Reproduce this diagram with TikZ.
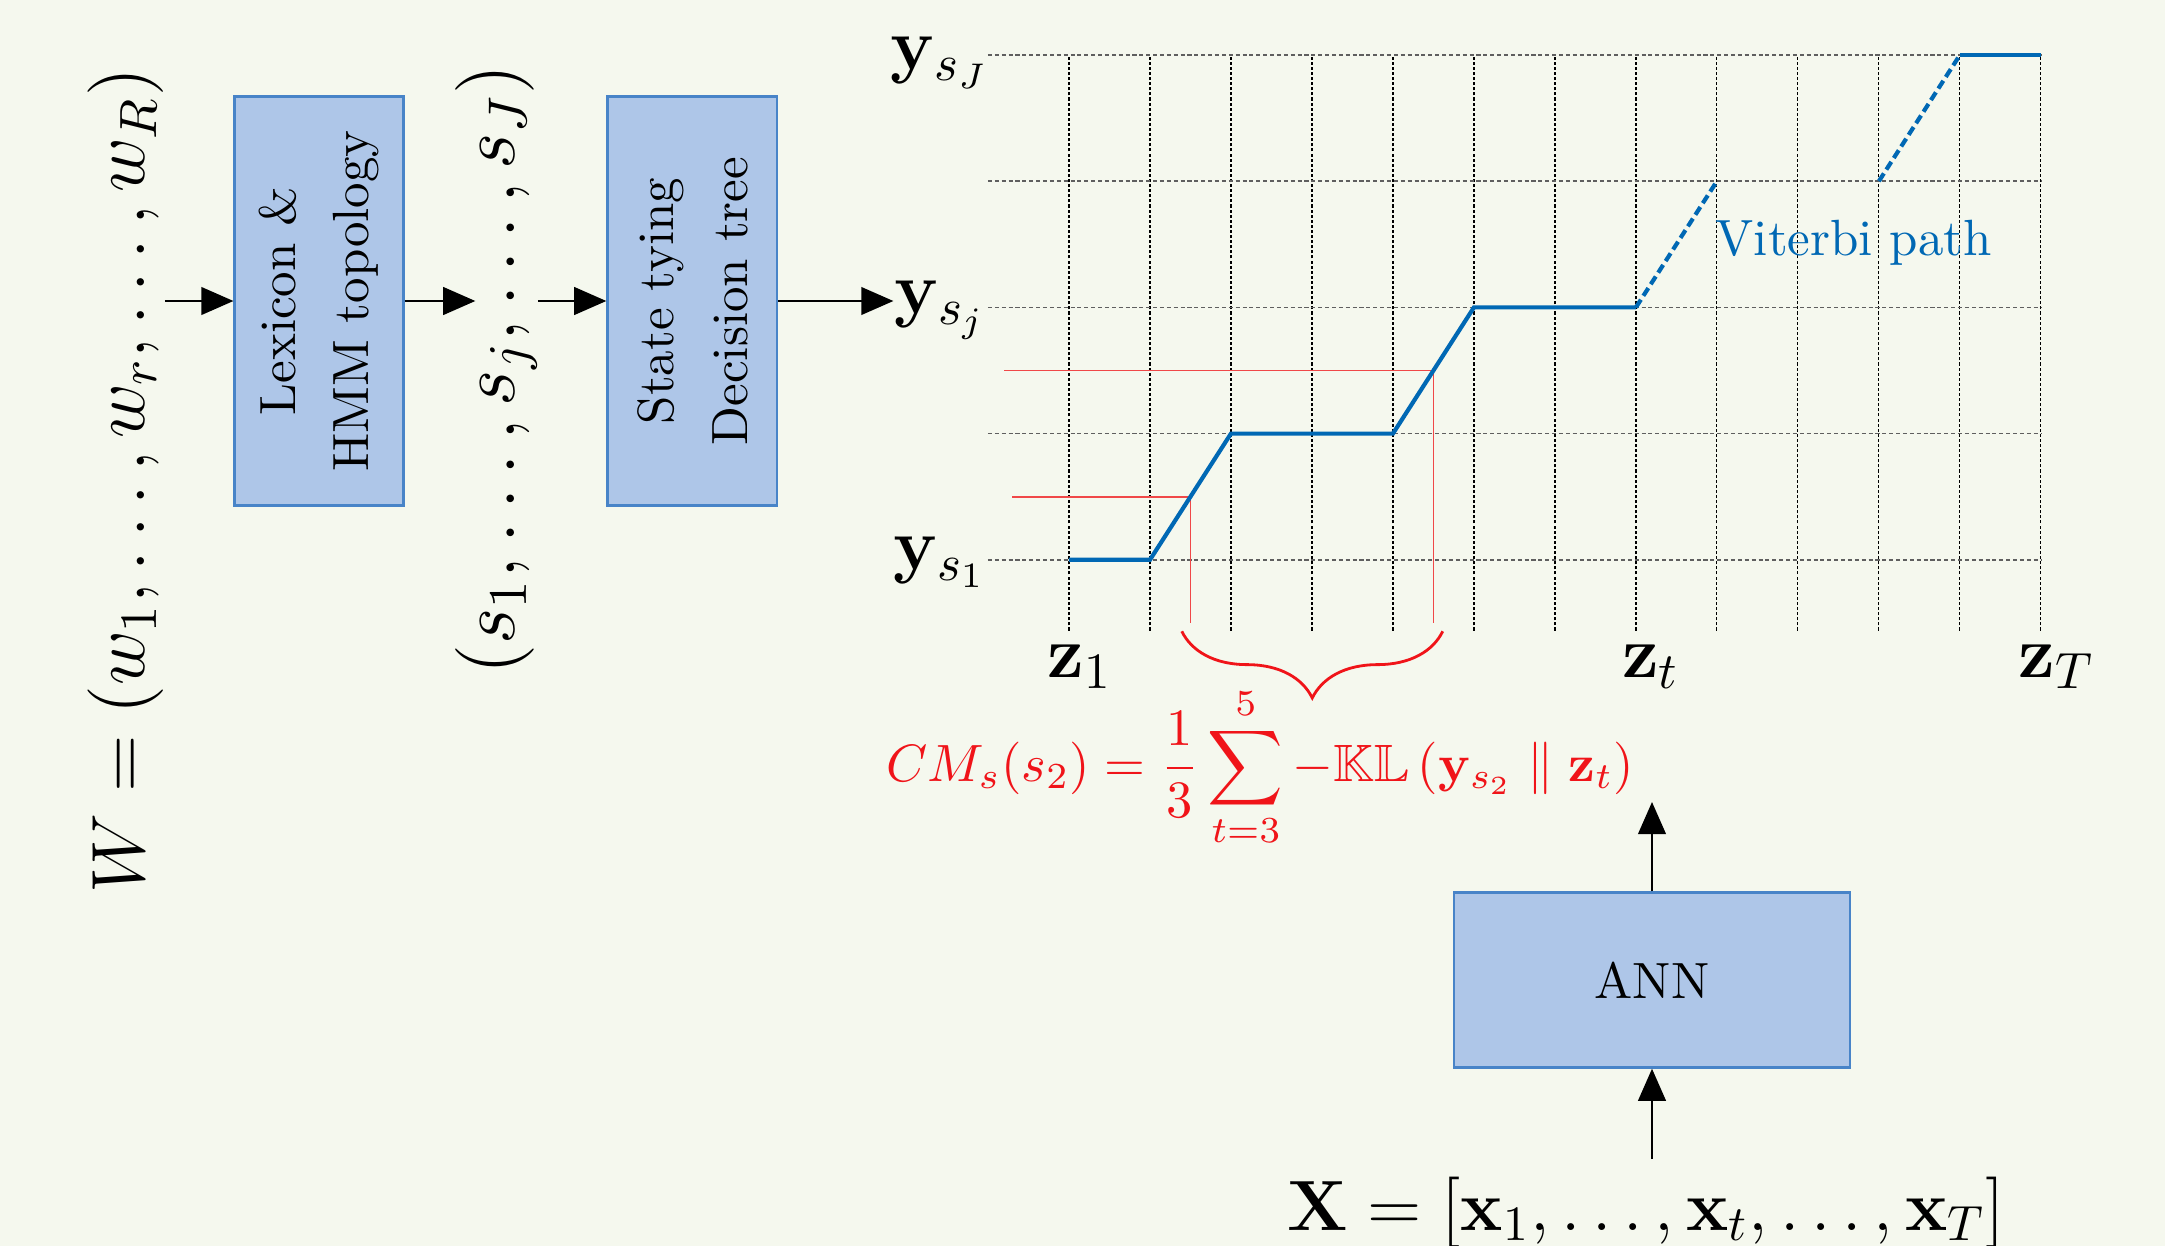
\documentclass[tikz,border=0pt]{standalone}
\usepackage{amsmath,amssymb}
\usetikzlibrary{arrows.meta,decorations.pathreplacing}
\definecolor{bgcream}{RGB}{245,248,238}
\definecolor{boxblue}{RGB}{174,198,232}
\definecolor{boxstroke}{RGB}{72,132,200}
\definecolor{vitblue}{RGB}{0,104,180}
\definecolor{gridgray}{RGB}{95,95,95}
\definecolor{guidered}{RGB}{240,72,72}
\definecolor{cmred}{RGB}{240,20,25}

\begin{document}
\begin{tikzpicture}[
  >={Triangle[length=6.3pt,width=5.4pt]},
  arrow/.style={->, line width=0.5pt},
  box/.style={draw=boxstroke, line width=0.45pt, fill=boxblue, align=center},
  rotbox/.style={box, rotate=90, minimum width=2.819cm, minimum height=1.164cm, font=\fontsize{10}{14.5}\selectfont},
  seq/.style={rotate=90, inner sep=0pt, font=\Large},
  axlabel/.style={inner sep=0pt, font=\Large},
  hgrid/.style={draw=gridgray, line width=0.33pt, dash pattern=on 0.8pt off 0.55pt},
  vgrid/.style={draw=black, line width=0.22pt, dash pattern=on 0.6pt off 0.4pt},
  guide/.style={draw=guidered, line width=0.32pt},
  vitpath/.style={draw=vitblue, line width=0.82pt},
  vitdash/.style={vitpath, dash pattern=on 1.8pt off 0.9pt},
  sumbrace/.style={draw=cmred, line width=0.55pt, decorate, decoration={brace, mirror, amplitude=0.46cm}}
]

\fill[bgcream] (0,0) rectangle (14.931,8.593);
\useasboundingbox (0,0) rectangle (14.931,8.593);

% Recognition pipeline
\node[seq, scale=1.028] (wseq) at (0.869,5.276) {$W = (w_1,\ldots,w_r,\ldots,w_R)$};
\node[rotbox] (lexbox) at (2.200,6.517) {Lexicon \&\\HMM topology};
\node[seq, scale=1.07] (sseq) at (3.421,6.045) {$(s_1,\ldots,s_j,\ldots,s_J)$};
\node[rotbox, minimum height=1.171cm] (tiebox) at (4.775,6.517) {State tying\\Decision tree};

% Alignment grid
\begin{scope}[shift={(7.372,4.732)}, x=0.5586cm, y=0.8705cm]
  \foreach \i in {0,...,12}
    \draw[vgrid] (\i,-0.56) -- (\i,4);
  \foreach \j in {0,...,4}
    \draw[hgrid] (-1,\j) -- (12,\j);

  \draw[guide] (-0.7,0.5) -- (1.5,0.5) -- (1.5,-0.5);
  \draw[guide] (-0.8,1.5) -- (4.5,1.5) -- (4.5,-0.5);

  \draw[vitpath] (0,0) -- (1,0) -- (2,1) -- (4,1) -- (5,2) -- (7,2);
  \draw[vitdash] (7,2) -- (8,3);
  \draw[vitdash] (10,3) -- (11,4);
  \draw[vitpath] (11,4) -- (12,4);

  \draw[sumbrace] (1.393,-0.566) -- (4.615,-0.566);

  \node[axlabel, anchor=base] (z1) at (0.136,-0.936) {$\mathbf{z}_1$};
  \node[axlabel, anchor=base] (zt) at (7.186,-0.936) {$\mathbf{z}_t$};
  \node[axlabel, anchor=base] (zT) at (12.198,-0.936) {$\mathbf{z}_T$};
  \node[axlabel] (ys1) at (-1.59,-0.02) {$\mathbf{y}_{s_1}$};
  \node[axlabel] (ysj) at (-1.59,1.98) {$\mathbf{y}_{s_j}$};
  \node[axlabel] (ysJ) at (-1.59,3.94) {$\mathbf{y}_{s_J}$};
  \node[text=vitblue] (vitlbl) at (9.69,2.51) {Viterbi path};
\end{scope}

\draw[arrow] (wseq.south |- lexbox.north) -- (lexbox.north);
\draw[arrow] (lexbox.south) -- ([xshift=0.145cm]sseq.north |- lexbox.south);
\draw[arrow] (sseq.south |- tiebox.north) -- (tiebox.north);
\draw[arrow] (tiebox.south) -- (tiebox.south -| ysj.west);

% Confidence measure and acoustic model
\node[text=cmred, scale=1.03] (cmform) at (8.693,3.303)
  {$\displaystyle CM_s(s_2) = \frac{1}{3}\sum_{t=3}^{5} -\mathbb{KL}\left(\mathbf{y}_{s_2} \;\|\; \mathbf{z}_t\right)$};
\node[box, minimum width=2.731cm, minimum height=1.207cm] (ann) at (11.393,1.834) {ANN};
\node[font=\Large, scale=0.97, anchor=base] (xeq) at (11.352,0.110)
  {$\mathbf{X} = [\mathbf{x}_1,\ldots,\mathbf{x}_t,\ldots,\mathbf{x}_T]$};
\coordinate (cmtip) at (11.36,3.062);
\draw[arrow] (ann.north) -- (ann.north |- cmtip);
\draw[arrow] (ann.south |- xeq.north) -- (ann.south);

\end{tikzpicture}
\end{document}
